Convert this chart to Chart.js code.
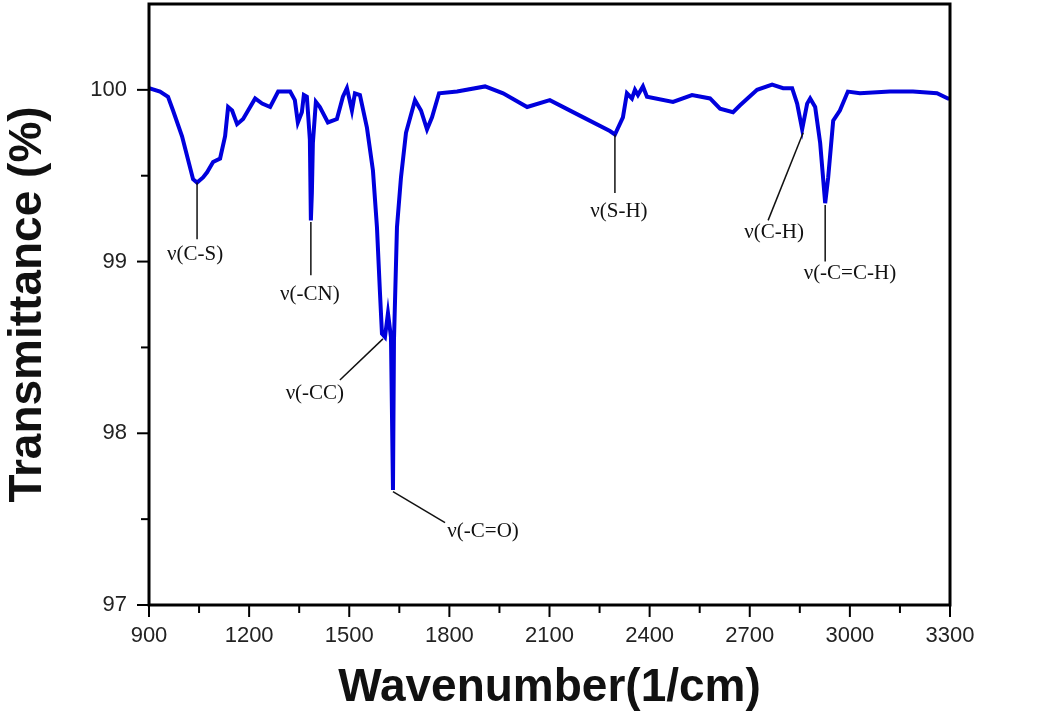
<!DOCTYPE html>
<html>
<head>
<meta charset="utf-8">
<script src="https://cdn.jsdelivr.net/npm/chart.js@4.4.1/dist/chart.umd.min.js"></script>
<style>
  body { margin: 0; background: #fff; }
  #wrap { width: 1050px; height: 723px; }
</style>
</head>
<body>
<div id="wrap"><canvas id="irChart" width="1050" height="723"></canvas></div>
<script>
// spectrum
const wavenumbers = [900, 933, 957, 972, 999, 1032, 1044, 1062, 1074, 1092, 1113, 1128, 1137, 1149, 1164, 1182, 1218, 1239, 1263, 1287,
  1323, 1337, 1346, 1358, 1364, 1373, 1382, 1385, 1388, 1391, 1400, 1412, 1436, 1463, 1481, 1493, 1508, 1517, 1532, 1553,
  1571, 1583, 1592, 1598, 1607, 1616, 1625, 1631, 1634, 1643, 1655, 1670, 1697, 1715, 1733, 1748, 1769, 1823, 1907, 1961,
  2033, 2101, 2191, 2281, 2296, 2320, 2332, 2347, 2356, 2365, 2380, 2392, 2470, 2527, 2581, 2611, 2650, 2671, 2722, 2767,
  2800, 2827, 2842, 2857, 2872, 2881, 2896, 2911, 2926, 2935, 2950, 2970, 2994, 3030, 3120, 3189, 3261, 3294, 3300];
const transmittance = [100.01, 99.99, 99.96, 99.88, 99.73, 99.48, 99.46, 99.49, 99.52, 99.58, 99.60, 99.73, 99.90, 99.88, 99.80, 99.83, 99.95, 99.92, 99.90, 99.99,
  99.99, 99.94, 99.81, 99.87, 99.97, 99.96, 99.71, 99.24, 99.40, 99.69, 99.93, 99.90, 99.81, 99.83, 99.96, 100.01, 99.88, 99.98, 99.97, 99.78,
  99.53, 99.20, 98.82, 98.58, 98.56, 98.70, 98.56, 97.67, 98.54, 99.20, 99.49, 99.75, 99.94, 99.88, 99.77, 99.84, 99.98, 99.99, 100.02, 99.98,
  99.90, 99.94, 99.85, 99.76, 99.74, 99.84, 99.98, 99.95, 100.00, 99.97, 100.02, 99.96, 99.93, 99.97, 99.95, 99.89, 99.87, 99.91, 100.00, 100.03,
  100.01, 100.01, 99.92, 99.77, 99.92, 99.95, 99.90, 99.69, 99.34, 99.49, 99.82, 99.88, 99.99, 99.98, 99.99, 99.99, 99.98, 99.95, 99.95];

// peak labels: text, peak point, end of leader line, text centre (data units)
const peakLabels = ['ν(C-S)', 'ν(-CN)', 'ν(-CC)', 'ν(-C=O)', 'ν(S-H)', 'ν(C-H)', 'ν(-C=C-H)'];
const peakX = [1044, 1385, 1601, 1631, 2296, 2860, 2926];
const peakY = [99.46, 99.23, 98.55, 97.66, 99.74, 99.75, 99.33];
const leadX = [1044, 1385, 1472, 1787, 2296, 2755, 2926];
const leadY = [99.13, 98.92, 98.31, 97.48, 99.40, 99.24, 99.00];
const textX = [1038, 1382, 1397, 1901, 2308, 2773, 3000];
const textY = [99.04, 98.81, 98.23, 97.43, 99.29, 99.17, 98.93];

const xTicks = [900, 1200, 1500, 1800, 2100, 2400, 2700, 3000, 3300];
const yTicks = [97, 98, 99, 100];

const points = wavenumbers.map((w, i) => ({x: w, y: transmittance[i]}));

const tickFont = {family: "'Liberation Sans', Arial, sans-serif", size: 22};
const titleFont = {family: "'Liberation Sans', Arial, sans-serif", size: 46, weight: 'bold'};

// frame, tick marks and peak labels
const framePlugin = {
  id: 'frame',
  afterDraw(chart) {
    const {ctx, chartArea: a, scales: {x, y}} = chart;
    ctx.save();
    ctx.strokeStyle = '#000';
    ctx.lineWidth = 3;
    ctx.strokeRect(a.left, a.top, a.right - a.left, a.bottom - a.top);

    ctx.lineWidth = 2;
    x.ticks.forEach(t => {
      const px = x.getPixelForValue(t.value);
      const len = xTicks.includes(t.value) ? 12 : 8;
      ctx.beginPath();
      ctx.moveTo(px, a.bottom);
      ctx.lineTo(px, a.bottom + len);
      ctx.stroke();
    });
    y.ticks.forEach(t => {
      if (t.value > 100) return;
      const py = y.getPixelForValue(t.value);
      const len = yTicks.includes(t.value) ? 12 : 8;
      ctx.beginPath();
      ctx.moveTo(a.left, py);
      ctx.lineTo(a.left - len, py);
      ctx.stroke();
    });

    ctx.lineWidth = 1.5;
    ctx.strokeStyle = '#111';
    ctx.fillStyle = '#111';
    ctx.font = "21px 'Liberation Serif', 'Times New Roman', serif";
    ctx.textAlign = 'center';
    ctx.textBaseline = 'middle';
    peakLabels.forEach((lab, i) => {
      ctx.beginPath();
      ctx.moveTo(x.getPixelForValue(peakX[i]), y.getPixelForValue(peakY[i]));
      ctx.lineTo(x.getPixelForValue(leadX[i]), y.getPixelForValue(leadY[i]));
      ctx.stroke();
      ctx.fillText(lab, x.getPixelForValue(textX[i]), y.getPixelForValue(textY[i]));
    });
    ctx.restore();
  }
};

const ctx = document.getElementById('irChart').getContext('2d');

const irChart = new Chart(ctx, {
  type: 'line',
  data: {
    datasets: [{
      data: points,
      borderColor: '#0000dd',
      borderWidth: 4,
      pointRadius: 0,
      tension: 0
    }]
  },
  options: {
    responsive: false,
    animation: false,
    layout: {padding: {top: 4, right: 100, left: 0, bottom: 0}},
    plugins: {
      legend: {display: false},
      tooltip: {enabled: false}
    },
    scales: {
      x: {
        type: 'linear',
        min: 900,
        max: 3300,
        afterFit: s => { s.height = 118; s.paddingLeft = 0; s.paddingRight = 0; },
        border: {display: false},
        grid: {drawOnChartArea: false, color: 'rgba(0,0,0,0)', tickLength: 12},
        ticks: {
          stepSize: 150,
          autoSkip: false,
          maxRotation: 0,
          padding: 6,
          color: '#222',
          font: tickFont,
          callback: v => xTicks.includes(v) ? String(v) : ''
        },
        title: {display: true, text: 'Wavenumber(1/cm)', color: '#111', font: titleFont, padding: {top: 0, bottom: 7}}
      },
      y: {
        min: 97,
        max: 100.5,
        afterFit: s => { s.width = 149; s.paddingTop = 0; s.paddingBottom = 0; },
        border: {display: false},
        grid: {drawOnChartArea: false, color: 'rgba(0,0,0,0)', tickLength: 12},
        ticks: {
          stepSize: 0.5,
          autoSkip: false,
          padding: 10,
          color: '#222',
          font: tickFont,
          callback: v => yTicks.includes(v) ? String(v) : ''
        },
        title: {display: true, text: 'Transmittance (%)', color: '#111', font: titleFont, padding: {top: 1, bottom: 0}}
      }
    }
  },
  plugins: [framePlugin]
});
</script>
</body>
</html>
